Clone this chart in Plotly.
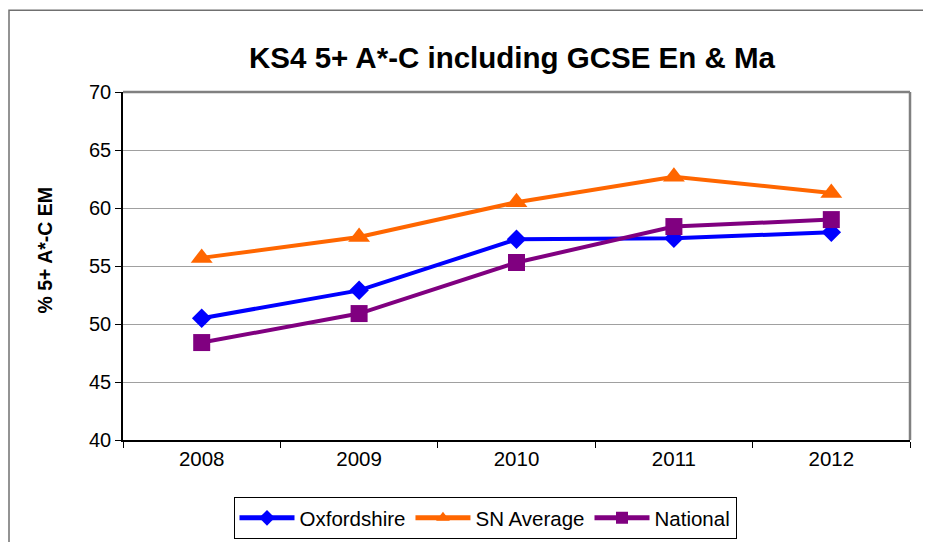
import plotly.graph_objects as go

years = ["2008", "2009", "2010", "2011", "2012"]
oxfordshire = [50.5, 52.9, 57.3, 57.4, 57.9]
sn_average = [55.7, 57.5, 60.5, 62.7, 61.3]
national = [48.4, 50.9, 55.3, 58.4, 59.0]

W, H = 931, 542
OFF = 8  # page body margin
# plot area in page pixels: x 123..910, y 92..441
L = 123 - OFF
T = 92 - OFF
R = W - (910 - OFF)
B = H - (441 - OFF)
pw, ph = W - L - R, H - T - B

def px(x):  # page x -> paper
    return (x - OFF - L) / pw

def py(y):  # page y -> paper
    return (H - B - (y - OFF)) / ph

FONT = "Liberation Sans, Arial, sans-serif"

fig = go.Figure()
fig.add_trace(go.Scatter(x=years, y=oxfordshire, name="Oxfordshire", mode="lines+markers",
                         line=dict(color="#0000FF", width=4),
                         marker=dict(symbol="diamond", size=15, color="#0000FF")))
fig.add_trace(go.Scatter(x=years, y=sn_average, name="SN Average", mode="lines+markers",
                         line=dict(color="#FF6600", width=4),
                         marker=dict(symbol="triangle-up", size=19, color="#FF6600")))
fig.add_trace(go.Scatter(x=years, y=national, name="National", mode="lines+markers",
                         line=dict(color="#800080", width=4),
                         marker=dict(symbol="square", size=17, color="#800080")))

fig.update_layout(
    width=W, height=H,
    margin=dict(l=L, r=R, t=T, b=B),
    paper_bgcolor="white", plot_bgcolor="white",
    font=dict(family=FONT, color="black", size=20),
    title=dict(text="<b>KS4 5+ A*-C including GCSE En & Ma</b>", x=(512 - OFF) / W, xanchor="center",
               xref="container", y=1 - (58 - OFF) / H, yanchor="middle", yref="container",
               font=dict(size=29.5)),
    showlegend=True,
    legend=dict(orientation="h", x=px(485), xanchor="center", y=py(518), yanchor="middle",
                bordercolor="black", borderwidth=1, font=dict(size=20.5),
                itemsizing="constant", itemwidth=55, tracegroupgap=0),
    xaxis=dict(type="category", range=[-0.5, 4.5], showgrid=False, showline=True,
               linecolor="black", linewidth=1.5, ticks="outside", tickson="boundaries",
               ticklen=6, tickcolor="black", tickwidth=1, tickfont=dict(size=20.5)),
    yaxis=dict(range=[40, 70], dtick=5, showgrid=True, gridcolor="#A0A0A0", gridwidth=1,
               showline=True, linecolor="black", linewidth=1.5, ticks="outside", ticklen=6,
               tickcolor="black", tickfont=dict(size=20), zeroline=False),
    annotations=[
        dict(text="<b>% 5+ A*-C EM</b>", xref="paper", yref="paper", x=px(45), y=py(251),
             xanchor="center", yanchor="middle", textangle=-90, showarrow=False,
             font=dict(size=19.5)),
    ],
    shapes=[
        dict(type="line", xref="paper", yref="paper", x0=0, x1=1, y0=1, y1=1,
             line=dict(color="#808080", width=2.5)),
        dict(type="line", xref="paper", yref="paper", x0=1, x1=1, y0=0, y1=1,
             line=dict(color="#808080", width=2.5)),
        dict(type="rect", xref="paper", yref="paper", x0=px(9), x1=px(980),
             y0=py(620), y1=py(10), line=dict(color="#707070", width=1.5),
             fillcolor="rgba(0,0,0,0)", layer="below"),
    ],
)

fig.write_html("out.html")
